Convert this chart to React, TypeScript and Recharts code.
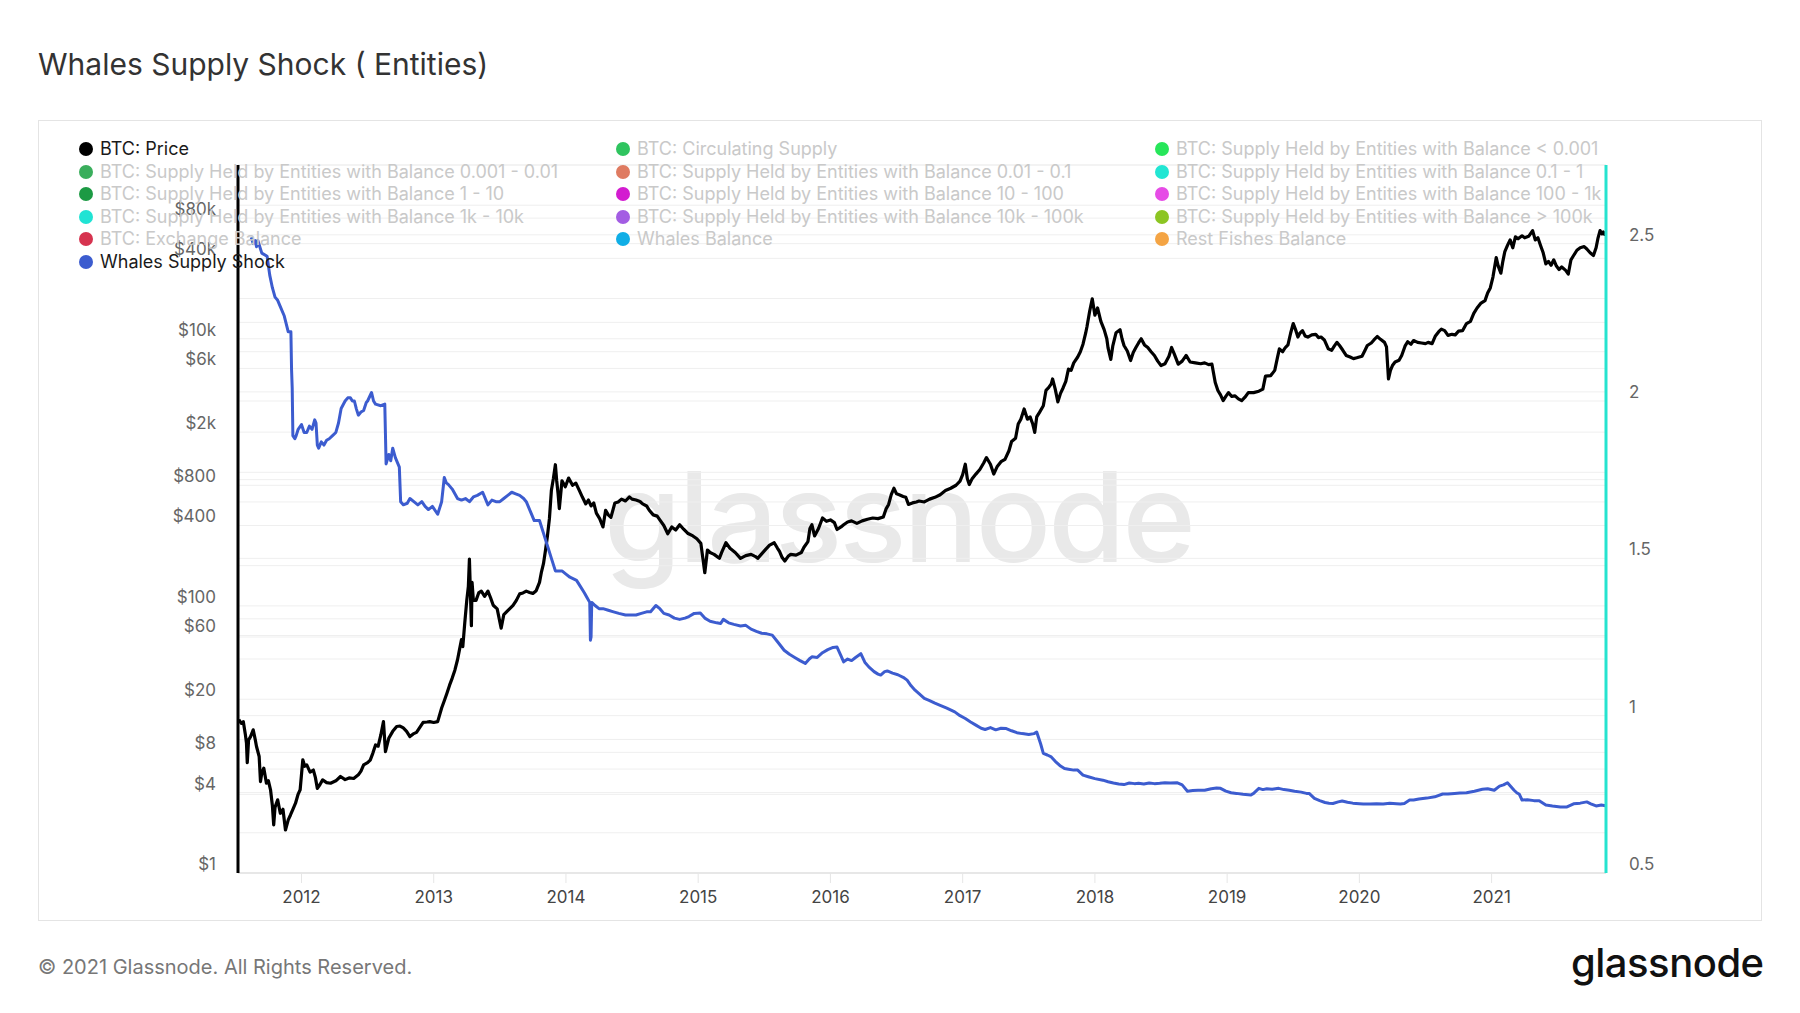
import React from 'react';
import { CartesianGrid, Line, LineChart, XAxis, YAxis } from 'recharts';

// [decimal year, USD]
const btcPrice: [number, number][] = [
  [2011.526, 14.1], [2011.545, 13.2], [2011.56, 13.6], [2011.575, 11.0], [2011.584, 9.4], [2011.59, 6.7],
  [2011.6, 9.9], [2011.615, 10.5], [2011.635, 11.8], [2011.65, 10.0], [2011.66, 8.85], [2011.68, 7.45],
  [2011.69, 4.84], [2011.7, 5.6], [2011.715, 6.1], [2011.735, 4.7], [2011.75, 4.9], [2011.766, 4.2],
  [2011.78, 3.2], [2011.79, 2.29], [2011.8, 3.1], [2011.82, 3.53], [2011.84, 2.8], [2011.86, 3.0],
  [2011.879, 2.1], [2011.9, 2.5], [2011.917, 2.72], [2011.935, 3.0], [2011.955, 3.33], [2011.975, 3.9],
  [2011.99, 4.2], [2012.01, 7.04], [2012.025, 6.3], [2012.04, 6.45], [2012.065, 5.7], [2012.09, 5.9],
  [2012.105, 5.2], [2012.12, 4.3], [2012.14, 4.6], [2012.16, 4.98], [2012.19, 4.75], [2012.22, 4.7],
  [2012.26, 4.9], [2012.295, 5.28], [2012.33, 5.0], [2012.36, 5.15], [2012.395, 5.1], [2012.43, 5.43],
  [2012.45, 5.8], [2012.47, 6.45], [2012.5, 6.7], [2012.52, 7.0], [2012.54, 7.9], [2012.56, 9.1],
  [2012.58, 8.9], [2012.6, 10.8], [2012.62, 13.6], [2012.635, 8.1], [2012.66, 10.2], [2012.69, 11.5],
  [2012.72, 12.5], [2012.745, 12.6], [2012.77, 12.2], [2012.795, 11.5], [2012.82, 10.5], [2012.845, 11.0],
  [2012.87, 11.3], [2012.895, 12.3], [2012.92, 13.4], [2012.95, 13.5], [2012.97, 13.6], [2013.0, 13.4],
  [2013.03, 13.6], [2013.06, 17.2], [2013.08, 19.5], [2013.1, 22.2], [2013.12, 25.5], [2013.14, 28.8],
  [2013.16, 33], [2013.18, 39.5], [2013.195, 47], [2013.21, 56], [2013.22, 49.6], [2013.235, 75],
  [2013.25, 110], [2013.262, 140], [2013.27, 224], [2013.285, 71], [2013.29, 150], [2013.3, 110],
  [2013.32, 110], [2013.34, 125], [2013.36, 129], [2013.385, 118], [2013.41, 129], [2013.43, 115],
  [2013.45, 101], [2013.48, 95], [2013.51, 68], [2013.53, 86], [2013.56, 92], [2013.6, 101],
  [2013.625, 110], [2013.65, 123], [2013.675, 125], [2013.7, 129], [2013.725, 126], [2013.75, 124],
  [2013.775, 130], [2013.8, 150], [2013.815, 180], [2013.83, 207], [2013.845, 260], [2013.86, 334],
  [2013.875, 450], [2013.89, 735], [2013.905, 900], [2013.92, 1140], [2013.93, 865], [2013.94, 700],
  [2013.95, 535], [2013.96, 680], [2013.97, 865], [2013.995, 780], [2014.02, 905], [2014.05, 800],
  [2014.075, 830], [2014.1, 735], [2014.125, 650], [2014.15, 580], [2014.17, 620], [2014.19, 560],
  [2014.21, 590], [2014.23, 495], [2014.255, 450], [2014.28, 390], [2014.3, 520], [2014.32, 480],
  [2014.34, 460], [2014.37, 590], [2014.395, 600], [2014.42, 630], [2014.45, 610], [2014.48, 655],
  [2014.5, 630], [2014.53, 620], [2014.56, 605], [2014.58, 580], [2014.61, 560], [2014.63, 520],
  [2014.66, 480], [2014.69, 470], [2014.71, 440], [2014.74, 400], [2014.77, 347], [2014.8, 390],
  [2014.83, 370], [2014.86, 405], [2014.89, 375], [2014.92, 350], [2014.96, 334], [2014.99, 318],
  [2015.02, 294], [2015.04, 210], [2015.05, 177], [2015.07, 262], [2015.09, 251], [2015.12, 243],
  [2015.16, 227], [2015.18, 255], [2015.21, 297], [2015.24, 270], [2015.28, 251], [2015.32, 227],
  [2015.36, 238], [2015.4, 243], [2015.43, 235], [2015.45, 227], [2015.48, 245], [2015.51, 265],
  [2015.54, 285], [2015.575, 297], [2015.6, 270], [2015.615, 256], [2015.635, 230], [2015.655, 217],
  [2015.68, 235], [2015.7, 243], [2015.74, 240], [2015.78, 251], [2015.8, 275], [2015.83, 303],
  [2015.845, 380], [2015.86, 405], [2015.88, 334], [2015.91, 380], [2015.94, 455], [2015.97, 430],
  [2016.0, 440], [2016.03, 420], [2016.05, 373], [2016.08, 390], [2016.1, 405], [2016.13, 425],
  [2016.16, 433], [2016.2, 415], [2016.24, 433], [2016.28, 445], [2016.32, 455], [2016.36, 450],
  [2016.4, 463], [2016.42, 530], [2016.44, 575], [2016.46, 680], [2016.48, 760], [2016.5, 690],
  [2016.52, 680], [2016.55, 660], [2016.57, 650], [2016.59, 575], [2016.62, 590], [2016.65, 600],
  [2016.67, 610], [2016.71, 600], [2016.75, 630], [2016.79, 650], [2016.83, 680], [2016.87, 730],
  [2016.91, 760], [2016.95, 800], [2016.98, 860], [2017.0, 960], [2017.02, 1150], [2017.035, 900],
  [2017.05, 810], [2017.07, 890], [2017.1, 970], [2017.13, 1050], [2017.16, 1180], [2017.18, 1290],
  [2017.21, 1150], [2017.235, 970], [2017.26, 1100], [2017.29, 1200], [2017.32, 1250], [2017.35, 1450],
  [2017.37, 1700], [2017.4, 1800], [2017.42, 2300], [2017.44, 2500], [2017.465, 2980], [2017.49, 2500],
  [2017.51, 2600], [2017.53, 2300], [2017.545, 1990], [2017.56, 2600], [2017.58, 2800], [2017.61, 3150],
  [2017.63, 4100], [2017.65, 4300], [2017.67, 4600], [2017.68, 5000], [2017.7, 4200], [2017.72, 3370],
  [2017.74, 3900], [2017.76, 4300], [2017.78, 4800], [2017.8, 5930], [2017.82, 5800], [2017.84, 6600],
  [2017.87, 7300], [2017.89, 8000], [2017.91, 9100], [2017.93, 11000], [2017.94, 12300], [2017.96, 16000],
  [2017.98, 19900], [2018.0, 15000], [2018.02, 17000], [2018.045, 13500], [2018.07, 11700], [2018.09, 10000],
  [2018.1, 8500], [2018.12, 7000], [2018.135, 8800], [2018.16, 11100], [2018.19, 11700], [2018.205, 10000],
  [2018.22, 8900], [2018.245, 8100], [2018.27, 6870], [2018.29, 7900], [2018.31, 8600], [2018.33, 9300],
  [2018.35, 10000], [2018.375, 9000], [2018.4, 8600], [2018.425, 8000], [2018.45, 7500], [2018.475, 6800],
  [2018.5, 6300], [2018.53, 6500], [2018.56, 7400], [2018.58, 8600], [2018.6, 7700], [2018.63, 6450],
  [2018.66, 6800], [2018.69, 7500], [2018.72, 6700], [2018.76, 6600], [2018.8, 6500], [2018.83, 6600],
  [2018.86, 6400], [2018.885, 6450], [2018.91, 4700], [2018.93, 4100], [2018.95, 3800], [2018.97, 3440],
  [2018.99, 3700], [2019.01, 3950], [2019.035, 3700], [2019.06, 3740], [2019.085, 3550], [2019.11, 3440],
  [2019.135, 3650], [2019.16, 3950], [2019.2, 3950], [2019.24, 4050], [2019.27, 4200], [2019.29, 5250],
  [2019.33, 5300], [2019.36, 5800], [2019.38, 7200], [2019.395, 8400], [2019.42, 8000], [2019.44, 8600],
  [2019.46, 9000], [2019.48, 11000], [2019.5, 13000], [2019.52, 11500], [2019.535, 10300], [2019.55, 11000],
  [2019.57, 11500], [2019.59, 10500], [2019.61, 10300], [2019.64, 10700], [2019.67, 10800], [2019.69, 10200],
  [2019.71, 10300], [2019.735, 9800], [2019.765, 8400], [2019.79, 8200], [2019.81, 8800], [2019.83, 9400],
  [2019.85, 8900], [2019.875, 8200], [2019.9, 7500], [2019.93, 7300], [2019.955, 7100], [2019.98, 7200],
  [2020.02, 7400], [2020.04, 8100], [2020.06, 8900], [2020.09, 9300], [2020.11, 9800], [2020.135, 10400],
  [2020.16, 9900], [2020.19, 9400], [2020.205, 8700], [2020.22, 5000], [2020.235, 5800], [2020.25, 6300],
  [2020.27, 6700], [2020.3, 6900], [2020.32, 7500], [2020.345, 8800], [2020.365, 9500], [2020.39, 9100],
  [2020.41, 9700], [2020.44, 9400], [2020.47, 9300], [2020.5, 9200], [2020.52, 9400], [2020.55, 9200],
  [2020.575, 10500], [2020.6, 11300], [2020.62, 11800], [2020.645, 11500], [2020.67, 10600], [2020.7, 10800],
  [2020.725, 10700], [2020.75, 11400], [2020.78, 11500], [2020.81, 13000], [2020.84, 13500], [2020.865, 15500],
  [2020.89, 17000], [2020.92, 18500], [2020.95, 19300], [2020.97, 22000], [2020.99, 24000], [2021.01, 29000],
  [2021.035, 40500], [2021.05, 35000], [2021.07, 31000], [2021.085, 38000], [2021.1, 45000], [2021.12, 50000],
  [2021.14, 55000], [2021.16, 48000], [2021.18, 58000], [2021.2, 56000], [2021.23, 59000], [2021.25, 57000],
  [2021.28, 58500], [2021.31, 64500], [2021.33, 55000], [2021.35, 57000], [2021.37, 50000], [2021.39, 44000],
  [2021.41, 36400], [2021.43, 38000], [2021.45, 35500], [2021.47, 39000], [2021.49, 35000], [2021.51, 33000],
  [2021.53, 34500], [2021.56, 32500], [2021.58, 30500], [2021.6, 39000], [2021.62, 42000], [2021.645, 46000],
  [2021.67, 48000], [2021.7, 49000], [2021.72, 47000], [2021.745, 44000], [2021.77, 42000], [2021.79, 48000],
  [2021.805, 57000], [2021.82, 64500], [2021.835, 61000], [2021.845, 63000], [2021.855, 60500], [2021.862, 62000],
];

// [decimal year, ratio]
const whalesSupplyShock: [number, number][] = [
  [2011.62, 2.52], [2011.635, 2.5], [2011.65, 2.51], [2011.66, 2.49], [2011.67, 2.51], [2011.7, 2.47],
  [2011.74, 2.46], [2011.76, 2.4], [2011.78, 2.36], [2011.8, 2.33], [2011.82, 2.32], [2011.84, 2.3],
  [2011.87, 2.27], [2011.9, 2.22], [2011.92, 2.22], [2011.925, 2.1], [2011.93, 2.04], [2011.935, 1.89],
  [2011.95, 1.88], [2011.96, 1.89], [2011.975, 1.91], [2012.0, 1.925], [2012.02, 1.9], [2012.04, 1.9],
  [2012.06, 1.92], [2012.08, 1.91], [2012.1, 1.94], [2012.11, 1.93], [2012.12, 1.86], [2012.13, 1.85],
  [2012.15, 1.87], [2012.17, 1.86], [2012.19, 1.875], [2012.21, 1.88], [2012.235, 1.89], [2012.26, 1.9],
  [2012.28, 1.93], [2012.3, 1.976], [2012.33, 2.0], [2012.35, 2.01], [2012.37, 2.01], [2012.385, 2.0],
  [2012.4, 2.0], [2012.415, 1.975], [2012.43, 1.955], [2012.45, 1.965], [2012.47, 1.97], [2012.49, 1.995],
  [2012.5, 2.0], [2012.53, 2.027], [2012.545, 2.0], [2012.56, 1.99], [2012.6, 1.985], [2012.63, 1.99],
  [2012.64, 1.8], [2012.66, 1.83], [2012.675, 1.81], [2012.69, 1.85], [2012.71, 1.82], [2012.74, 1.79],
  [2012.75, 1.68], [2012.77, 1.67], [2012.8, 1.675], [2012.82, 1.69], [2012.85, 1.68], [2012.88, 1.67],
  [2012.91, 1.68], [2012.935, 1.665], [2012.96, 1.655], [2012.99, 1.665], [2013.03, 1.64], [2013.06, 1.68],
  [2013.08, 1.757], [2013.095, 1.74], [2013.11, 1.735], [2013.14, 1.72], [2013.18, 1.69], [2013.21, 1.685],
  [2013.24, 1.69], [2013.27, 1.68], [2013.3, 1.695], [2013.33, 1.7], [2013.37, 1.71], [2013.41, 1.67],
  [2013.44, 1.685], [2013.47, 1.68], [2013.5, 1.68], [2013.53, 1.69], [2013.56, 1.7], [2013.59, 1.71],
  [2013.62, 1.705], [2013.65, 1.7], [2013.68, 1.69], [2013.7, 1.68], [2013.73, 1.65], [2013.76, 1.62],
  [2013.8, 1.62], [2013.83, 1.58], [2013.86, 1.54], [2013.89, 1.5], [2013.92, 1.46], [2013.97, 1.46],
  [2014.0, 1.45], [2014.03, 1.44], [2014.08, 1.43], [2014.11, 1.41], [2014.14, 1.39], [2014.16, 1.375],
  [2014.18, 1.36], [2014.185, 1.24], [2014.19, 1.25], [2014.195, 1.36], [2014.22, 1.35], [2014.25, 1.34],
  [2014.28, 1.34], [2014.32, 1.335], [2014.36, 1.33], [2014.4, 1.325], [2014.45, 1.32], [2014.49, 1.32],
  [2014.53, 1.32], [2014.57, 1.325], [2014.61, 1.33], [2014.64, 1.33], [2014.68, 1.35], [2014.71, 1.34],
  [2014.74, 1.325], [2014.78, 1.32], [2014.82, 1.31], [2014.86, 1.306], [2014.9, 1.31], [2014.93, 1.315],
  [2014.97, 1.325], [2015.016, 1.326], [2015.05, 1.31], [2015.09, 1.3], [2015.14, 1.295], [2015.17, 1.293],
  [2015.19, 1.306], [2015.23, 1.295], [2015.27, 1.29], [2015.32, 1.285], [2015.36, 1.287], [2015.4, 1.275],
  [2015.44, 1.268], [2015.48, 1.262], [2015.52, 1.26], [2015.56, 1.256], [2015.6, 1.235], [2015.65, 1.208],
  [2015.69, 1.195], [2015.73, 1.185], [2015.77, 1.175], [2015.81, 1.166], [2015.84, 1.18], [2015.86, 1.187],
  [2015.9, 1.185], [2015.94, 1.2], [2015.98, 1.21], [2016.02, 1.217], [2016.05, 1.218], [2016.08, 1.19],
  [2016.1, 1.171], [2016.13, 1.18], [2016.16, 1.175], [2016.19, 1.185], [2016.23, 1.197], [2016.26, 1.17],
  [2016.29, 1.155], [2016.33, 1.14], [2016.36, 1.132], [2016.38, 1.129], [2016.41, 1.14], [2016.43, 1.142],
  [2016.47, 1.135], [2016.51, 1.13], [2016.55, 1.122], [2016.58, 1.113], [2016.61, 1.095], [2016.64, 1.081],
  [2016.67, 1.07], [2016.71, 1.055], [2016.75, 1.048], [2016.79, 1.04], [2016.83, 1.033], [2016.88, 1.024],
  [2016.94, 1.012], [2016.98, 1.0], [2017.02, 0.991], [2017.06, 0.98], [2017.1, 0.97], [2017.14, 0.96],
  [2017.17, 0.956], [2017.21, 0.962], [2017.25, 0.955], [2017.29, 0.96], [2017.33, 0.959], [2017.37, 0.952],
  [2017.41, 0.946], [2017.45, 0.943], [2017.5, 0.94], [2017.54, 0.943], [2017.56, 0.948], [2017.59, 0.91],
  [2017.61, 0.88], [2017.64, 0.875], [2017.67, 0.869], [2017.7, 0.855], [2017.74, 0.84], [2017.77, 0.832],
  [2017.8, 0.83], [2017.84, 0.827], [2017.87, 0.827], [2017.91, 0.811], [2017.95, 0.806], [2018.0, 0.8],
  [2018.06, 0.795], [2018.1, 0.79], [2018.14, 0.786], [2018.18, 0.783], [2018.22, 0.781], [2018.26, 0.786],
  [2018.3, 0.784], [2018.33, 0.785], [2018.37, 0.783], [2018.41, 0.786], [2018.45, 0.784], [2018.49, 0.785],
  [2018.53, 0.787], [2018.57, 0.786], [2018.62, 0.787], [2018.66, 0.78], [2018.7, 0.76], [2018.74, 0.762],
  [2018.78, 0.763], [2018.83, 0.763], [2018.88, 0.768], [2018.92, 0.77], [2018.95, 0.769], [2018.99, 0.76],
  [2019.03, 0.755], [2019.07, 0.753], [2019.12, 0.75], [2019.18, 0.748], [2019.2, 0.753], [2019.24, 0.769],
  [2019.27, 0.765], [2019.3, 0.768], [2019.34, 0.766], [2019.39, 0.769], [2019.43, 0.765], [2019.47, 0.763],
  [2019.51, 0.76], [2019.56, 0.757], [2019.6, 0.753], [2019.62, 0.753], [2019.66, 0.737], [2019.7, 0.73],
  [2019.74, 0.724], [2019.77, 0.722], [2019.8, 0.721], [2019.84, 0.726], [2019.87, 0.729], [2019.91, 0.725],
  [2019.95, 0.722], [2020.0, 0.72], [2020.03, 0.719], [2020.08, 0.719], [2020.13, 0.72], [2020.18, 0.719],
  [2020.23, 0.722], [2020.28, 0.72], [2020.31, 0.719], [2020.34, 0.721], [2020.38, 0.732], [2020.41, 0.732],
  [2020.45, 0.735], [2020.51, 0.738], [2020.57, 0.742], [2020.63, 0.751], [2020.67, 0.751], [2020.72, 0.753],
  [2020.76, 0.754], [2020.81, 0.755], [2020.87, 0.76], [2020.93, 0.766], [2020.97, 0.768], [2021.02, 0.763],
  [2021.06, 0.776], [2021.09, 0.78], [2021.12, 0.787], [2021.145, 0.775], [2021.17, 0.763], [2021.19, 0.755],
  [2021.21, 0.75], [2021.23, 0.732], [2021.27, 0.733], [2021.32, 0.73], [2021.36, 0.73], [2021.41, 0.716],
  [2021.46, 0.713], [2021.52, 0.71], [2021.57, 0.71], [2021.62, 0.72], [2021.67, 0.722], [2021.72, 0.726],
  [2021.75, 0.72], [2021.79, 0.713], [2021.83, 0.716], [2021.862, 0.714],
];

const yearTicks = [2012, 2013, 2014, 2015, 2016, 2017, 2018, 2019, 2020, 2021];
const priceGridTicks = [
  1, 2, 4, 6, 8, 10, 20, 40, 60, 80, 100, 200, 400, 600, 800, 1000, 2000, 4000, 6000, 8000,
  10000, 20000, 40000, 60000, 80000, 100000, 200000,
];
const priceTickLabels = [1, 4, 8, 20, 60, 100, 400, 800, 2000, 6000, 10000, 40000, 80000];
const ratioGridTicks = [0.5, 0.75, 1, 1.25, 1.5, 1.75, 2, 2.25, 2.5, 2.75];
const ratioTickLabels = [0.5, 1, 1.5, 2, 2.5];

const legendNames = [
  'BTC: Price',
  'BTC: Circulating Supply',
  'BTC: Supply Held by Entities with Balance < 0.001',
  'BTC: Supply Held by Entities with Balance 0.001 - 0.01',
  'BTC: Supply Held by Entities with Balance 0.01 - 0.1',
  'BTC: Supply Held by Entities with Balance 0.1 - 1',
  'BTC: Supply Held by Entities with Balance 1 - 10',
  'BTC: Supply Held by Entities with Balance 10 - 100',
  'BTC: Supply Held by Entities with Balance 100 - 1k',
  'BTC: Supply Held by Entities with Balance 1k - 10k',
  'BTC: Supply Held by Entities with Balance 10k - 100k',
  'BTC: Supply Held by Entities with Balance > 100k',
  'BTC: Exchange Balance',
  'Whales Balance',
  'Rest Fishes Balance',
  'Whales Supply Shock',
];
const legendColors = [
  '#000000', '#2fc45f', '#27e65a',
  '#3aae5c', '#df7b61', '#22e6d3',
  '#1c9a44', '#d31cd0', '#e64ce6',
  '#20e3d4', '#a35de3', '#8cc523',
  '#d6334f', '#10aee6', '#f4a444',
  '#3c5ccf',
];
const legendActive = ['BTC: Price', 'Whales Supply Shock'];

const FONT = 'Inter, "Noto Sans", sans-serif';

const rows = (() => {
  const map = new Map<number, { t: number; price?: number; wss?: number }>();
  btcPrice.forEach(([t, v]) => map.set(t, { ...(map.get(t) || { t }), price: v }));
  whalesSupplyShock.forEach(([t, v]) => map.set(t, { ...(map.get(t) || { t }), wss: v }));
  return [...map.values()].sort((a, b) => a.t - b.t);
})();

const fmtPrice = (v: number) => (v >= 1000 ? `$${v / 1000}k` : `$${v}`);

function PriceTick(props: any) {
  const { x, y, payload } = props;
  if (!priceTickLabels.includes(payload.value)) return <g />;
  return (
    <text x={x} y={y - 9} dy="0.35em" textAnchor="end" fill="#666" fontSize={17} fontFamily={FONT}>
      {fmtPrice(payload.value)}
    </text>
  );
}

function RatioTick(props: any) {
  const { x, y, payload } = props;
  if (!ratioTickLabels.includes(payload.value)) return <g />;
  return (
    <text x={x} y={y - 9} dy="0.35em" textAnchor="start" fill="#666" fontSize={17} fontFamily={FONT}>
      {String(payload.value)}
    </text>
  );
}

function LegendBlock() {
  const colX = [79, 616, 1155];
  return (
    <>
      {legendNames.map((name, i) => {
        const active = legendActive.includes(name);
        return (
          <div
            key={name}
            style={{
              position: 'absolute',
              left: colX[i % 3],
              top: 138 + Math.floor(i / 3) * 22.5,
              height: 22,
              display: 'flex',
              alignItems: 'center',
              whiteSpace: 'nowrap',
              fontSize: 18,
              lineHeight: 1,
              color: active ? '#1a1a1a' : '#c9c9c9',
            }}
          >
            <span
              style={{
                width: 14,
                height: 14,
                borderRadius: 7,
                background: legendColors[i],
                marginRight: 7,
                flex: 'none',
              }}
            />
            {name}
          </div>
        );
      })}
    </>
  );
}

export default function App() {
  return (
    <div
      style={{
        position: 'absolute',
        left: 0,
        top: 0,
        width: 1800,
        height: 1013,
        background: '#fff',
        fontFamily: FONT,
        overflow: 'hidden',
      }}
    >
      <div style={{ position: 'absolute', left: 38, top: 49, fontSize: 30, lineHeight: 1, color: '#333' }}>
        Whales Supply Shock ( Entities)
      </div>
      <div
        style={{
          position: 'absolute',
          left: 38,
          top: 120,
          width: 1724,
          height: 801,
          border: '1.5px solid #e4e4e4',
          boxSizing: 'border-box',
        }}
      />
      <div
        style={{
          position: 'absolute',
          left: 604,
          top: 454,
          fontSize: 125,
          lineHeight: 1,
          fontWeight: 500,
          letterSpacing: -3,
          color: '#e9e9e9',
        }}
      >
        glassnode
      </div>
      <div style={{ position: 'absolute', left: 0, top: 0 }}>
        <LineChart
          width={1800}
          height={1013}
          data={rows}
          margin={{ top: 165, right: 134, bottom: 100, left: 178 }}
        >
          <CartesianGrid yAxisId="price" vertical={false} stroke="#efefef" />
          <CartesianGrid yAxisId="ratio" vertical={false} stroke="#efefef" />
          <XAxis
            dataKey="t"
            type="number"
            domain={[2011.52, 2021.865]}
            allowDataOverflow
            ticks={yearTicks}
            interval={0}
            height={40}
            tickSize={10}
            tickMargin={8}
            tickLine={{ stroke: '#e6e6e6' }}
            axisLine={{ stroke: '#e3e3e3', strokeWidth: 1.5 }}
            tick={{ fill: '#444', fontSize: 17, fontFamily: FONT }}
          />
          <YAxis
            yAxisId="price"
            orientation="left"
            scale="log"
            domain={[1, 200000]}
            allowDataOverflow
            ticks={priceGridTicks}
            interval={0}
            width={60}
            tickSize={0}
            tickMargin={22}
            tickLine={false}
            axisLine={{ stroke: '#000', strokeWidth: 3 }}
            tick={<PriceTick />}
          />
          <YAxis
            yAxisId="ratio"
            orientation="right"
            domain={[0.5, 2.75]}
            allowDataOverflow
            ticks={ratioGridTicks}
            interval={0}
            width={60}
            tickSize={0}
            tickMargin={23}
            tickLine={false}
            axisLine={{ stroke: '#26e3cf', strokeWidth: 3 }}
            tick={<RatioTick />}
          />
          <Line
            yAxisId="price"
            dataKey="price"
            type="linear"
            stroke="#000"
            strokeWidth={3.2}
            dot={false}
            connectNulls
            strokeLinejoin="round"
            isAnimationActive={false}
          />
          <Line
            yAxisId="ratio"
            dataKey="wss"
            type="linear"
            stroke="#3c5ccf"
            strokeWidth={3}
            dot={false}
            connectNulls
            strokeLinejoin="round"
            isAnimationActive={false}
          />
        </LineChart>
      </div>
      <LegendBlock />
      <div style={{ position: 'absolute', left: 38, top: 957, fontSize: 20, lineHeight: 1, color: '#777' }}>
        © 2021 Glassnode. All Rights Reserved.
      </div>
      <div
        style={{
          position: 'absolute',
          left: 1571,
          top: 943,
          fontSize: 40,
          lineHeight: 1,
          fontWeight: 500,
          color: '#111',
          letterSpacing: -0.5,
        }}
      >
        glassnode
      </div>
    </div>
  );
}
